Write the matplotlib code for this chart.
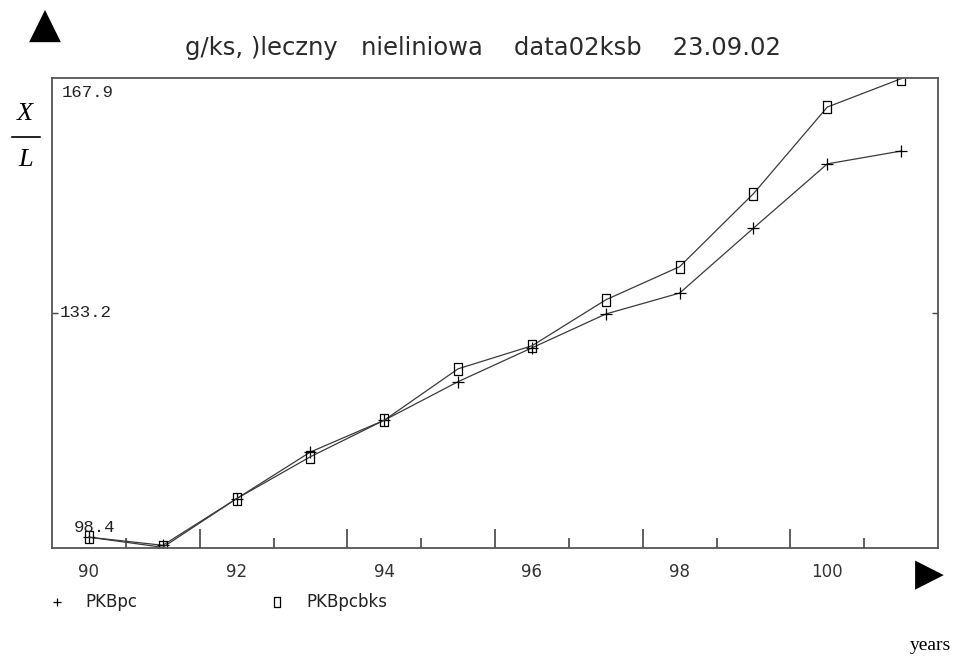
import matplotlib
matplotlib.use("Agg")
from matplotlib import pyplot as plt
from matplotlib.lines import Line2D

# values
years = [90, 91, 92, 93, 94, 95, 96, 97, 98, 99, 100, 101]
pkbpc = [100.0, 98.8, 105.7, 112.6, 117.3, 123.0, 128.0, 133.0, 136.1, 145.7, 155.2, 157.1]
pkbpcbks = [100.0, 98.5, 105.7, 111.9, 117.3, 124.9, 128.3, 135.1, 140.0, 150.8, 163.6, 167.8]
year_labels = ["90", "92", "94", "96", "98", "100"]
label_years = [90, 92, 94, 96, 98, 100]
y_min, y_mid, y_max = 98.4, 133.2, 167.9

# tall open box like the old plotter draws
box = [(-0.65, -1), (0.65, -1), (0.65, 1), (-0.65, 1), (-0.65, -1)]

fig = plt.figure(figsize=(9.71, 6.57), dpi=100)
ax = fig.add_axes([0.0536, 0.1659, 0.9125, 0.7154])

line_col = "#3a3a3a"
ax.plot(years, pkbpc, color=line_col, lw=0.9, marker="+", ms=8, mew=0.9, mec="black")
ax.plot(years, pkbpcbks, color=line_col, lw=0.9, marker=box, ms=8, mew=0.9,
        mfc="none", mec="black")

ax.set_xlim(89.5, 101.5)
ax.set_ylim(y_min, y_max)

for s in ax.spines.values():
    s.set_color("#555555")
    s.set_linewidth(1.3)

# ticks sit half a year off the labels
ax.set_xticks([91.5, 93.5, 95.5, 97.5, 99.5])
ax.set_xticks([90.5, 92.5, 94.5, 96.5, 98.5, 100.5], minor=True)
ax.tick_params(axis="x", which="major", direction="in", length=14, width=1.2,
               color="#444444", labelbottom=False)
ax.tick_params(axis="x", which="minor", direction="in", length=7, width=1.2,
               color="#444444")
ax.set_yticks([y_mid])
ax.tick_params(axis="y", direction="in", length=4, width=1, color="#444444",
               right=True, labelleft=False)

for yr, lab in zip(label_years, year_labels):
    ax.text(yr, -0.05, lab, transform=ax.get_xaxis_transform(), ha="center",
            va="center", fontsize=12, color="#333333", family="DejaVu Sans")

mono = "Liberation Mono"
ax.text(0.011, 0.969, "167.9", transform=ax.transAxes, fontsize=12.5, family=mono,
        va="center", ha="left", color="#222222")
ax.text(0.009, y_mid, "133.2", transform=ax.get_yaxis_transform(), fontsize=12.5,
        family=mono, va="center", ha="left", color="#222222")
ax.text(0.024, 0.043, "98.4", transform=ax.transAxes, fontsize=12.5, family=mono,
        va="center", ha="left", color="#222222")

fig.text(0.497, 0.927, "g/ks, )leczny   nieliniowa    data02ksb    23.09.02",
         ha="center", va="center", fontsize=17.5, color="#2a2a2a")

# decorations: arrows, axis captions, legend
fig.text(0.046, 0.96, "\u25B2", ha="center", va="center", fontsize=30, family="DejaVu Sans")
fig.text(0.957, 0.125, "\u25B6", ha="center", va="center", fontsize=27, family="DejaVu Sans")
fig.text(0.026, 0.827, "X", ha="center", va="center", fontsize=19,
         family="Liberation Serif", style="italic")
fig.text(0.026, 0.757, "L", ha="center", va="center", fontsize=19,
         family="Liberation Serif", style="italic")
fig.add_artist(Line2D([0.012, 0.041], [0.792, 0.792], transform=fig.transFigure,
                      color="black", lw=1.2))
fig.text(0.958, 0.018, "years", ha="center", va="center", fontsize=14,
         family="Liberation Serif")

fig.add_artist(Line2D([0.059], [0.083], transform=fig.transFigure, marker="+",
                      ms=6, mew=0.9, color="black", ls="none"))
fig.text(0.088, 0.083, "PKBpc", ha="left", va="center", fontsize=12, color="#222222")
fig.add_artist(Line2D([0.285], [0.083], transform=fig.transFigure, marker=box,
                      ms=7, mew=0.9, mfc="none", mec="black", ls="none"))
fig.text(0.316, 0.083, "PKBpcbks", ha="left", va="center", fontsize=12, color="#222222")

fig.savefig("out.png", dpi=100)
